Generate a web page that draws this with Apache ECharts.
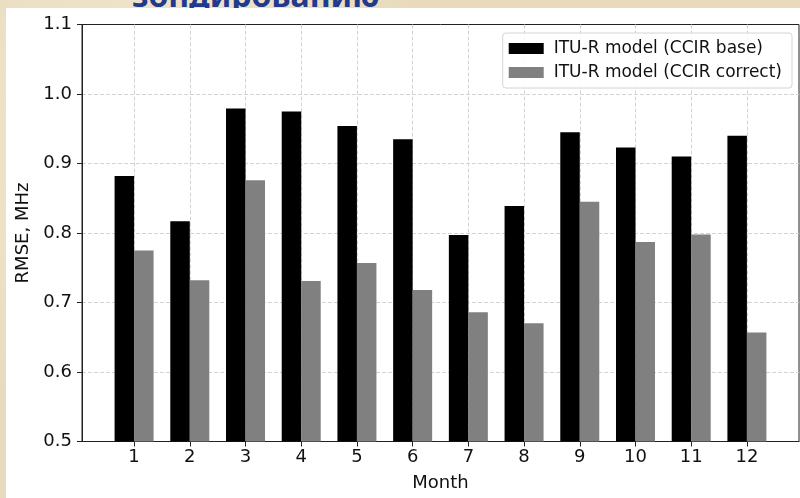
<!DOCTYPE html>
<html>
<head>
<meta charset="utf-8">
<script src="https://cdn.jsdelivr.net/npm/echarts@6/dist/echarts.min.js"></script>
<style>
  html, body { margin: 0; padding: 0; }
  body {
    width: 800px; height: 498px; overflow: hidden; position: relative;
    background-color: #e8dbbd;
    background-image:
      radial-gradient(circle at 20% 30%, rgba(255,250,235,0.5), rgba(255,250,235,0) 40%),
      radial-gradient(circle at 80% 70%, rgba(210,190,150,0.35), rgba(210,190,150,0) 45%);
  }
  #title {
    position: absolute; left: 132px; top: -27px;
    font: bold 32px "Noto Sans", "DejaVu Sans", sans-serif; color: #1f3a8f;
  }
  #panel { position: absolute; left: 6px; top: 8px; right: 0; bottom: 0; background: #fff; }
  #main { position: absolute; left: 0; top: 0; width: 800px; height: 498px; }
</style>
</head>
<body>
<div id="title">зондированию</div>
<div id="panel"></div>
<div id="main"></div>
<script>
// RMSE по месяцам
var months = [1, 2, 3, 4, 5, 6, 7, 8, 9, 10, 11, 12];
var ccirBase = [0.882, 0.817, 0.979, 0.975, 0.954, 0.935, 0.797, 0.839, 0.945, 0.923, 0.910, 0.940];
var ccirCorrect = [0.775, 0.732, 0.876, 0.731, 0.757, 0.718, 0.686, 0.670, 0.845, 0.787, 0.798, 0.657];
var seriesNames = ['ITU-R model (CCIR base)', 'ITU-R model (CCIR correct)'];

var font = '"DejaVu Sans", sans-serif';
var myChart = echarts.init(document.getElementById('main'));

function pairs(vals) {
  return months.map(function (m, i) { return [m, vals[i]]; });
}

var gridLine = { color: '#d4d4d4', type: [4, 2] };

myChart.setOption({
  animation: false,
  grid: {
    left: 82, right: 1, top: 24.5, bottom: 56.5,
    show: true, backgroundColor: '#fff', borderColor: '#222', borderWidth: 1
  },
  legend: {
    orient: 'vertical', right: 8, top: 33,
    itemWidth: 35, itemHeight: 11, itemGap: 7,
    padding: [7, 10, 7, 6],
    borderColor: '#d4d4d4', borderWidth: 1, borderRadius: 3,
    backgroundColor: 'rgba(255,255,255,0.85)',
    icon: 'rect',
    textStyle: { fontFamily: font, fontSize: 17, color: '#111', padding: [0, 0, 0, 5] },
    data: seriesNames
  },
  xAxis: {
    type: 'value', min: 0.065, max: 12.935,
    name: 'Month', nameLocation: 'middle', nameGap: 33,
    nameTextStyle: { fontFamily: font, fontSize: 18, color: '#111' },
    axisLine: { show: true, onZero: false, lineStyle: { color: '#222' } },
    axisTick: { show: true, length: 5, customValues: months, lineStyle: { color: '#222' } },
    axisLabel: { customValues: months, fontFamily: font, fontSize: 18, color: '#111', margin: 7 },
    splitLine: { show: true, lineStyle: gridLine }
  },
  yAxis: {
    type: 'value', min: 0.5, max: 1.1, interval: 0.1,
    name: 'RMSE, MHz', nameLocation: 'middle', nameGap: 46,
    nameTextStyle: { fontFamily: font, fontSize: 18, color: '#111' },
    axisLine: { show: true, lineStyle: { color: '#222' } },
    axisTick: { show: true, length: 5, lineStyle: { color: '#222' } },
    axisLabel: {
      fontFamily: font, fontSize: 18, color: '#111', margin: 10,
      formatter: function (v) { return v.toFixed(1); }
    },
    splitLine: { show: true, showMinLine: false, showMaxLine: false, lineStyle: gridLine }
  },
  series: [
    {
      name: seriesNames[0], type: 'bar', data: pairs(ccirBase),
      barWidth: 19.5, barGap: '0%', itemStyle: { color: '#000' }
    },
    {
      name: seriesNames[1], type: 'bar', data: pairs(ccirCorrect),
      barWidth: 19.5, barGap: '0%', itemStyle: { color: '#808080' }
    }
  ]
});
</script>
</body>
</html>
